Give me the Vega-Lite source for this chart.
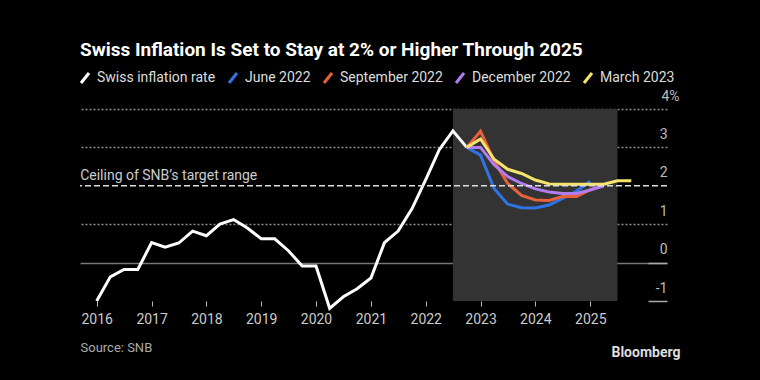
{
  "$schema": "https://vega.github.io/schema/vega-lite/v6.json",
  "width": 587,
  "height": 192,
  "autosize": {"type": "none"},
  "padding": {"left": 80, "top": 109, "right": 93, "bottom": 79},
  "background": "#000000",
  "config": {
    "view": {"stroke": null},
    "font": "Roboto, sans-serif"
  },
  "title": {
    "text": "Swiss Inflation Is Set to Stay at 2% or Higher Through 2025",
    "anchor": "start",
    "frame": "group",
    "fontSize": 19,
    "fontWeight": "bold",
    "color": "#ffffff",
    "font": "Roboto, sans-serif",
    "offset": 11
  },
  "datasets": {
    "shade": [{"start": "2022-07-01", "end": "2025-07-01"}],
    "ceiling": [{"value": 2, "label": "Ceiling of SNB’s target range"}],
    "inflation": [
      {"series": "Swiss inflation rate", "date": "2016-01-01", "value": -1.0},
      {"series": "Swiss inflation rate", "date": "2016-04-01", "value": -0.37},
      {"series": "Swiss inflation rate", "date": "2016-07-01", "value": -0.18},
      {"series": "Swiss inflation rate", "date": "2016-10-01", "value": -0.18},
      {"series": "Swiss inflation rate", "date": "2017-01-01", "value": 0.52},
      {"series": "Swiss inflation rate", "date": "2017-04-01", "value": 0.40},
      {"series": "Swiss inflation rate", "date": "2017-07-01", "value": 0.51},
      {"series": "Swiss inflation rate", "date": "2017-10-01", "value": 0.82},
      {"series": "Swiss inflation rate", "date": "2018-01-01", "value": 0.70},
      {"series": "Swiss inflation rate", "date": "2018-04-01", "value": 1.00},
      {"series": "Swiss inflation rate", "date": "2018-07-01", "value": 1.12},
      {"series": "Swiss inflation rate", "date": "2018-10-01", "value": 0.90},
      {"series": "Swiss inflation rate", "date": "2019-01-01", "value": 0.62},
      {"series": "Swiss inflation rate", "date": "2019-04-01", "value": 0.62},
      {"series": "Swiss inflation rate", "date": "2019-07-01", "value": 0.31},
      {"series": "Swiss inflation rate", "date": "2019-10-01", "value": -0.09},
      {"series": "Swiss inflation rate", "date": "2020-01-01", "value": -0.09},
      {"series": "Swiss inflation rate", "date": "2020-04-01", "value": -1.19},
      {"series": "Swiss inflation rate", "date": "2020-07-01", "value": -0.89},
      {"series": "Swiss inflation rate", "date": "2020-10-01", "value": -0.68},
      {"series": "Swiss inflation rate", "date": "2021-01-01", "value": -0.40},
      {"series": "Swiss inflation rate", "date": "2021-04-01", "value": 0.52},
      {"series": "Swiss inflation rate", "date": "2021-07-01", "value": 0.82},
      {"series": "Swiss inflation rate", "date": "2021-10-01", "value": 1.40},
      {"series": "Swiss inflation rate", "date": "2022-01-01", "value": 2.16},
      {"series": "Swiss inflation rate", "date": "2022-04-01", "value": 2.94},
      {"series": "Swiss inflation rate", "date": "2022-07-01", "value": 3.43},
      {"series": "Swiss inflation rate", "date": "2022-10-01", "value": 3.0},
      {"series": "June 2022", "date": "2022-10-01", "value": 3.0},
      {"series": "June 2022", "date": "2023-01-01", "value": 2.8},
      {"series": "June 2022", "date": "2023-04-01", "value": 1.93},
      {"series": "June 2022", "date": "2023-07-01", "value": 1.52},
      {"series": "June 2022", "date": "2023-10-01", "value": 1.43},
      {"series": "June 2022", "date": "2024-01-01", "value": 1.42},
      {"series": "June 2022", "date": "2024-04-01", "value": 1.5},
      {"series": "June 2022", "date": "2024-07-01", "value": 1.67},
      {"series": "June 2022", "date": "2024-10-01", "value": 1.86},
      {"series": "June 2022", "date": "2025-01-01", "value": 2.12},
      {"series": "September 2022", "date": "2022-10-01", "value": 3.0},
      {"series": "September 2022", "date": "2023-01-01", "value": 3.42},
      {"series": "September 2022", "date": "2023-04-01", "value": 2.65},
      {"series": "September 2022", "date": "2023-07-01", "value": 2.06},
      {"series": "September 2022", "date": "2023-10-01", "value": 1.75},
      {"series": "September 2022", "date": "2024-01-01", "value": 1.63},
      {"series": "September 2022", "date": "2024-04-01", "value": 1.62},
      {"series": "September 2022", "date": "2024-07-01", "value": 1.72},
      {"series": "September 2022", "date": "2024-10-01", "value": 1.72},
      {"series": "September 2022", "date": "2025-01-01", "value": 1.9},
      {"series": "September 2022", "date": "2025-04-01", "value": 2.0},
      {"series": "December 2022", "date": "2022-10-01", "value": 3.0},
      {"series": "December 2022", "date": "2023-01-01", "value": 3.0},
      {"series": "December 2022", "date": "2023-04-01", "value": 2.55},
      {"series": "December 2022", "date": "2023-07-01", "value": 2.24},
      {"series": "December 2022", "date": "2023-10-01", "value": 2.06},
      {"series": "December 2022", "date": "2024-01-01", "value": 1.92},
      {"series": "December 2022", "date": "2024-04-01", "value": 1.84},
      {"series": "December 2022", "date": "2024-07-01", "value": 1.8},
      {"series": "December 2022", "date": "2024-10-01", "value": 1.8},
      {"series": "December 2022", "date": "2025-01-01", "value": 1.89},
      {"series": "December 2022", "date": "2025-04-01", "value": 2.0},
      {"series": "March 2023", "date": "2022-10-01", "value": 3.0},
      {"series": "March 2023", "date": "2023-01-01", "value": 3.22},
      {"series": "March 2023", "date": "2023-04-01", "value": 2.69},
      {"series": "March 2023", "date": "2023-07-01", "value": 2.43},
      {"series": "March 2023", "date": "2023-10-01", "value": 2.32},
      {"series": "March 2023", "date": "2024-01-01", "value": 2.15},
      {"series": "March 2023", "date": "2024-04-01", "value": 2.05},
      {"series": "March 2023", "date": "2024-07-01", "value": 2.04},
      {"series": "March 2023", "date": "2024-10-01", "value": 2.04},
      {"series": "March 2023", "date": "2025-01-01", "value": 2.04},
      {"series": "March 2023", "date": "2025-04-01", "value": 2.04},
      {"series": "March 2023", "date": "2025-07-01", "value": 2.13},
      {"series": "March 2023", "date": "2025-10-01", "value": 2.13}
    ]
  },
  "layer": [
    {
      "data": {"name": "shade"},
      "mark": {"type": "rect", "color": "#333333"},
      "encoding": {
        "x": {
          "field": "start",
          "type": "temporal",
          "scale": {"domain": [{"year": 2015, "month": 9, "date": 12}, {"year": 2026, "month": 5, "date": 27}]},
          "axis": {
            "values": [{"year": 2016}, {"year": 2017}, {"year": 2018}, {"year": 2019}, {"year": 2020}, {"year": 2021}, {"year": 2022}, {"year": 2023}, {"year": 2024}, {"year": 2025}],
            "tickCount": 12,
            "format": "%Y",
            "domain": false,
            "grid": false,
            "ticks": true,
            "tickSize": 5,
            "tickColor": "#bbbbbb",
            "tickWidth": 1,
            "labelColor": "#cccccc",
            "labelFontSize": 14,
            "labelPadding": 6,
            "labelFlush": false,
            "labelOverlap": false,
            "title": "Source: SNB",
            "titleAnchor": "start",
            "titleAlign": "left",
            "titleX": 0,
            "titleY": 50,
            "titleBaseline": "alphabetic",
            "titleColor": "#aaaaaa",
            "titleFontWeight": "normal",
            "titleFontSize": 13
          }
        },
        "x2": {"field": "end"},
        "y": {
          "datum": 4,
          "type": "quantitative",
          "scale": {"domain": [-1, 4], "nice": false, "zero": false},
          "axis": {
            "orient": "right",
            "values": [-1, 0, 1, 2, 3, 4],
            "tickCount": 8,
            "domain": false,
            "grid": true,
            "gridColor": {"condition": {"test": "datum.value === 0", "value": "#777777"}, "value": "#8a8a8a"},
            "gridDash": {"condition": {"test": "datum.value === 0", "value": []}, "value": [2, 2]},
            "gridOpacity": {"condition": {"test": "datum.value === -1 || datum.value === 2", "value": 0}, "value": 1},
            "gridWidth": 1.3,
            "ticks": true,
            "tickSize": -19,
            "tickColor": "#aaaaaa",
            "tickWidth": 1.5,
            "tickOpacity": {"condition": {"test": "datum.value <= 0", "value": 1}, "value": 0},
            "labelAlign": "right",
            "labelBaseline": "alphabetic",
            "labelOffset": -9,
            "labelPadding": {"condition": {"test": "datum.value === 4", "value": 31}, "value": 19},
            "labelColor": "#bbbbbb",
            "labelFontSize": 14,
            "labelFlush": false,
            "labelOverlap": false,
            "labelBound": false,
            "labelExpr": "datum.value === 4 ? '4%' : toString(datum.value)",
            "title": "Bloomberg",
            "titleAngle": 0,
            "titleAlign": "right",
            "titleBaseline": "middle",
            "titleX": 13,
            "titleY": 243,
            "titleFontSize": 14,
            "titleFontWeight": "bold",
            "titleColor": "#dddddd"
          }
        },
        "y2": {"datum": -1}
      }
    },
    {
      "data": {"name": "inflation"},
      "mark": {"type": "line", "strokeWidth": 3, "strokeJoin": "miter"},
      "encoding": {
        "x": {"field": "date", "type": "temporal"},
        "y": {"field": "value", "type": "quantitative"},
        "color": {
          "field": "series",
          "type": "nominal",
          "sort": ["Swiss inflation rate", "June 2022", "September 2022", "December 2022", "March 2023"],
          "scale": {
            "domain": ["Swiss inflation rate", "June 2022", "September 2022", "December 2022", "March 2023"],
            "range": ["#ffffff", "#2f74e6", "#e8603c", "#b27cf2", "#f6e46c"]
          },
          "legend": {
            "orient": "none",
            "legendX": -2,
            "legendY": -38,
            "direction": "horizontal",
            "title": null,
            "padding": 0,
            "symbolType": "M-0.8,1L0.8,-1",
            "symbolStrokeWidth": 3,
            "symbolSize": 100,
            "labelColor": "#dddddd",
            "labelFontSize": 14,
            "labelOffset": 5,
            "columnPadding": 7
          }
        }
      }
    },
    {
      "data": {"name": "ceiling"},
      "mark": {"type": "rule", "strokeDash": [6, 3], "color": "#dddddd", "strokeWidth": 1.5},
      "encoding": {
        "y": {"field": "value", "type": "quantitative"}
      }
    },
    {
      "data": {"name": "ceiling"},
      "mark": {"type": "text", "align": "left", "baseline": "alphabetic", "dy": -6, "color": "#cccccc", "fontSize": 14},
      "encoding": {
        "x": {"datum": {"year": 2015, "month": 9, "date": 13}, "type": "temporal"},
        "y": {"field": "value", "type": "quantitative"},
        "text": {"field": "label"}
      }
    }
  ]
}
